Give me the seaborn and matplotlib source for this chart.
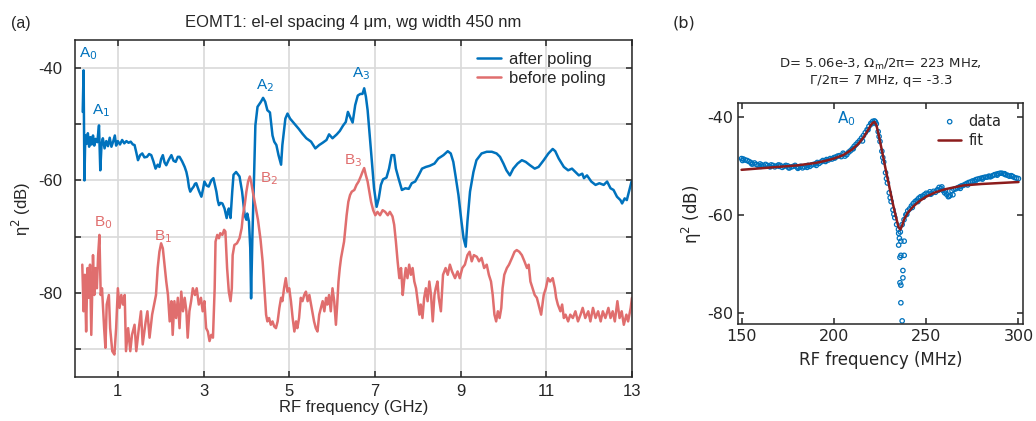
import numpy as np
import matplotlib
matplotlib.use("Agg")
import matplotlib.pyplot as plt
import seaborn as sns

# (a) wideband spectra
after_f = [0.18, 0.20, 0.22, 0.24, 0.27, 0.30, 0.33, 0.36, 0.39, 0.42, 0.45, 0.48, 0.52, 0.56, 0.59,
           0.62, 0.65, 0.69, 0.73, 0.77, 0.81, 0.85, 0.89, 0.93, 0.96, 1.00, 1.05, 1.10, 1.15, 1.20,
           1.25, 1.30, 1.35, 1.39, 1.43, 1.47, 1.52, 1.57, 1.62, 1.68, 1.73, 1.78, 1.83, 1.88, 1.93,
           1.97, 2.01, 2.05, 2.09, 2.13, 2.19, 2.25, 2.30, 2.35, 2.40, 2.44, 2.50, 2.56, 2.60, 2.63,
           2.66, 2.69, 2.73, 2.77, 2.80, 2.83, 2.89, 2.95, 2.99, 3.02, 3.07, 3.12, 3.18, 3.23, 3.27,
           3.30, 3.33, 3.36, 3.40, 3.44, 3.49, 3.54, 3.57, 3.59, 3.63, 3.67, 3.70, 3.76, 3.84, 3.90,
           3.96, 4.00, 4.02, 4.06, 4.09, 4.11, 4.14, 4.18, 4.21, 4.26, 4.34, 4.39, 4.44, 4.49, 4.55,
           4.61, 4.65, 4.70, 4.75, 4.81, 4.84, 4.91, 4.96, 5.02, 5.12, 5.22, 5.31, 5.40, 5.51, 5.61,
           5.70, 5.78, 5.87, 5.93, 6.01, 6.11, 6.18, 6.26, 6.32, 6.37, 6.42, 6.48, 6.54, 6.60, 6.66,
           6.71, 6.75, 6.79, 6.83, 6.88, 6.93, 6.98, 7.04, 7.09, 7.14, 7.19, 7.27, 7.33, 7.39, 7.45,
           7.49, 7.55, 7.63, 7.71, 7.79, 7.86, 7.94, 8.02, 8.10, 8.19, 8.28, 8.39, 8.48, 8.60, 8.70,
           8.77, 8.83, 8.88, 8.95, 9.02, 9.07, 9.12, 9.16, 9.22, 9.30, 9.37, 9.49, 9.61, 9.73, 9.84,
           9.92, 10.00, 10.07, 10.15, 10.23, 10.33, 10.43, 10.52, 10.62, 10.73, 10.82, 10.94, 11.05,
           11.15, 11.21, 11.29, 11.41, 11.51, 11.60, 11.68, 11.76, 11.84, 11.88, 11.95, 12.05, 12.15,
           12.24, 12.34, 12.42, 12.50, 12.57, 12.65, 12.73, 12.77, 12.83, 12.88, 12.93, 12.99]
after_db = [-47.8, -40.4, -60.0, -52.0, -53.5, -51.6, -54.0, -52.3, -53.6, -52.0, -53.8, -52.6, -53.2, -50.2, -58.2,
            -53.5, -52.5, -54.3, -53.0, -53.9, -52.4, -54.0, -53.1, -52.0, -53.8, -53.0, -53.6, -52.8, -53.4, -53.0,
            -53.3, -53.1, -53.6, -53.7, -55.0, -56.4, -55.5, -55.2, -55.9, -55.8, -55.3, -55.5, -56.6, -57.9, -57.2,
            -57.6, -56.2, -55.5, -56.8, -57.3, -56.3, -55.5, -56.5, -56.7, -55.8, -55.8, -56.6, -57.6, -58.5, -59.6,
            -61.2, -62.0, -61.5, -61.1, -60.6, -60.5, -61.8, -62.9, -61.5, -60.2, -60.9, -61.1, -60.0, -59.6, -61.0,
            -62.0, -63.5, -64.4, -64.0, -64.1, -65.0, -66.7, -65.5, -65.0, -66.7, -62.0, -59.0, -58.5, -59.3, -62.0,
            -66.2, -67.0, -65.9, -67.3, -72.0, -81.0, -70.0, -59.1, -50.2, -46.9, -46.0, -45.3, -46.0, -47.5, -47.9,
            -52.0, -53.1, -53.7, -55.5, -57.2, -53.7, -49.0, -48.1, -49.0, -49.9, -50.8, -51.7, -52.5, -53.1, -54.3,
            -53.7, -53.3, -52.8, -51.8, -52.5, -51.8, -51.2, -50.2, -49.6, -47.8, -48.7, -49.7, -46.6, -44.9, -44.6,
            -44.6, -43.6, -45.1, -47.5, -52.0, -56.7, -61.4, -64.7, -63.2, -60.8, -59.8, -59.5, -57.9, -55.5, -55.5,
            -57.9, -59.6, -61.7, -61.4, -61.5, -60.5, -60.2, -59.1, -57.9, -57.6, -57.4, -57.0, -56.1, -55.5, -54.8,
            -55.2, -56.7, -59.1, -62.6, -67.3, -70.3, -71.8, -67.3, -62.0, -58.5, -56.4, -55.2, -54.9, -54.9, -55.2,
            -55.8, -57.0, -58.2, -59.1, -57.9, -57.0, -56.4, -56.7, -57.3, -57.9, -57.6, -56.4, -55.2,
            -54.4, -54.8, -56.1, -57.6, -58.2, -57.9, -58.5, -59.1, -58.8, -59.6, -59.1, -60.2, -60.8,
            -60.5, -60.8, -60.2, -61.4, -61.7, -62.9, -63.5, -64.1, -63.2, -63.5, -62.0, -60.2]

before_f = [0.17, 0.20, 0.23, 0.26, 0.29, 0.32, 0.35, 0.38, 0.42, 0.45, 0.48, 0.51, 0.54, 0.57, 0.60,
            0.63, 0.68, 0.71, 0.74, 0.79, 0.82, 0.87, 0.92, 0.96, 1.00, 1.04, 1.08, 1.12, 1.16, 1.19,
            1.24, 1.29, 1.33, 1.39, 1.43, 1.49, 1.54, 1.58, 1.65, 1.69, 1.74, 1.80, 1.86, 1.89, 1.93,
            1.97, 2.01, 2.05, 2.09, 2.13, 2.17, 2.21, 2.25, 2.28, 2.32, 2.36, 2.40, 2.44, 2.48, 2.52,
            2.56, 2.60, 2.63, 2.67, 2.71, 2.75, 2.80, 2.84, 2.89, 2.94, 2.98, 3.02, 3.06, 3.10, 3.14,
            3.18, 3.22, 3.26, 3.28, 3.32, 3.36, 3.39, 3.44, 3.48, 3.51, 3.55, 3.59, 3.63, 3.66, 3.68,
            3.72, 3.78, 3.84, 3.89, 3.92, 3.96, 4.00, 4.04, 4.08, 4.11, 4.15, 4.21, 4.27, 4.33, 4.38,
            4.42, 4.46, 4.49, 4.53, 4.57, 4.61, 4.65, 4.69, 4.73, 4.77, 4.81, 4.84, 4.88, 4.92, 4.96,
            5.00, 5.04, 5.08, 5.12, 5.16, 5.19, 5.23, 5.27, 5.31, 5.35, 5.39, 5.43, 5.47, 5.51, 5.54,
            5.58, 5.62, 5.66, 5.70, 5.74, 5.78, 5.82, 5.86, 5.89, 5.93, 5.97, 6.01, 6.05, 6.09, 6.12,
            6.15, 6.18, 6.21, 6.25, 6.28, 6.31, 6.34, 6.38, 6.42, 6.46, 6.52, 6.57, 6.62, 6.67, 6.71,
            6.75, 6.79, 6.83, 6.87, 6.91, 6.96, 7.01, 7.06, 7.12, 7.18, 7.24, 7.30, 7.35, 7.41, 7.45,
            7.49, 7.53, 7.57, 7.61, 7.65, 7.68, 7.72, 7.76, 7.80, 7.84, 7.88, 7.92, 7.96, 8.00, 8.04,
            8.07, 8.11, 8.15, 8.19, 8.23, 8.27, 8.31, 8.35, 8.39, 8.42, 8.46, 8.49, 8.54, 8.59, 8.65,
            8.70, 8.75, 8.80, 8.87, 8.93, 8.98, 9.04, 9.10, 9.16, 9.21, 9.26, 9.31, 9.38, 9.43, 9.49,
            9.55, 9.61, 9.66, 9.71, 9.75, 9.79, 9.83, 9.87, 9.91, 9.95, 9.98, 10.02, 10.08, 10.13, 10.20,
            10.26, 10.31, 10.37, 10.43, 10.49, 10.55, 10.59, 10.63, 10.68, 10.73, 10.78, 10.84, 10.88,
            10.94, 10.99, 11.04, 11.09, 11.15, 11.20, 11.23, 11.27, 11.33, 11.37, 11.41, 11.45, 11.51,
            11.56, 11.62, 11.68, 11.74, 11.80, 11.85, 11.91, 11.98, 12.03, 12.09, 12.15, 12.21, 12.27,
            12.32, 12.38, 12.45, 12.50, 12.55, 12.60, 12.66, 12.71, 12.76, 12.81, 12.87, 12.91, 12.97, 13.00]
before_db = [-75.0, -83.3, -76.8, -86.9, -75.6, -80.9, -75.0, -87.5, -73.3, -80.4, -75.6, -79.2, -73.3, -69.7, -80.4,
             -79.2, -86.3, -89.8, -82.1, -80.4, -86.3, -90.4, -91.0, -86.3, -79.2, -82.7, -80.4, -82.1, -80.4, -90.4,
             -86.3, -90.4, -87.5, -85.7, -90.4, -86.3, -83.3, -89.2, -85.1, -83.3, -88.0, -83.9, -81.5, -80.4, -75.6,
             -72.7, -71.2, -72.1, -75.0, -78.0, -80.4, -85.1, -81.5, -87.5, -81.5, -84.5, -80.9, -86.3, -79.8, -83.3,
             -80.9, -83.3, -88.0, -83.3, -81.5, -79.2, -80.4, -79.2, -82.1, -80.9, -83.3, -81.5, -86.3, -86.9, -88.6,
             -87.5, -88.0, -79.2, -70.9, -69.7, -70.3, -69.4, -69.7, -68.8, -69.1, -75.6, -79.8, -81.5, -79.2, -73.3,
             -71.5, -71.2, -70.3, -68.5, -66.2, -64.4, -62.0, -60.2, -59.3, -60.2, -62.0, -64.5, -67.0, -70.5, -74.5,
             -79.2, -83.9, -85.1, -84.5, -85.7, -85.1, -86.0, -86.3, -85.1, -82.7, -80.9, -81.5, -79.2, -77.4, -79.8,
             -79.2, -81.5, -84.5, -86.9, -85.1, -86.3, -84.5, -80.9, -81.5, -80.4, -79.8, -81.5, -80.4, -82.1, -83.3,
             -85.1, -86.3, -86.9, -83.9, -82.7, -81.5, -83.3, -80.9, -82.1, -80.4, -83.3, -79.2, -81.5, -85.7, -82.1,
             -78.0, -75.6, -73.8, -72.1, -70.9, -68.5, -66.2, -63.8, -62.6, -62.0, -61.7, -60.8, -60.2, -59.3, -58.5,
             -57.8, -59.1, -60.2, -62.0, -63.8, -65.3, -66.2, -65.6, -66.2, -65.3, -65.6, -66.2, -65.6, -66.4, -67.9,
             -70.9, -74.4, -77.4, -75.6, -80.4, -78.0, -75.6, -77.4, -75.0, -76.8, -75.6, -78.0, -79.2, -81.5, -83.9,
             -82.1, -84.5, -80.9, -79.2, -81.5, -78.0, -80.4, -85.1, -80.4, -79.2, -78.0, -80.9, -83.3, -76.8, -75.6,
             -76.8, -75.0, -76.2, -77.4, -76.2, -77.4, -75.6, -75.0, -73.3, -72.7, -74.4, -73.3, -73.6, -74.4, -73.8,
             -75.6, -75.0, -76.8, -78.0, -80.4, -83.9, -85.1, -83.3, -84.5, -82.7, -79.2, -76.8, -75.6, -75.0, -73.8,
             -72.7, -72.4, -72.7, -73.3, -74.4, -75.6, -75.0, -78.0, -79.2, -80.4, -80.9, -82.7, -83.9,
             -80.4, -79.2, -77.4, -78.0, -77.4, -79.2, -80.9, -82.1, -83.3, -82.1, -84.5, -83.9, -85.1,
             -83.9, -84.5, -83.3, -85.1, -83.9, -82.7, -84.5, -83.3, -85.1, -82.7, -84.5, -83.3, -85.1,
             -83.3, -84.5, -82.7, -84.5, -83.3, -85.1, -81.5, -84.5, -83.3, -85.7, -83.9, -85.1, -82.7, -80.9]

peak_names = ["A$_0$", "A$_1$", "A$_2$", "A$_3$", "B$_0$", "B$_1$", "B$_2$", "B$_3$"]
peak_f = [0.30, 0.61, 4.43, 6.68, 0.65, 2.05, 4.53, 6.49]
peak_db = [-37.4, -47.5, -43.1, -41.0, -67.6, -70.0, -59.6, -56.4]

# (b) zoom on A0 with Fano fit
data_f = list(range(150, 301))
data_db = [-48.5, -48.6, -48.8, -48.9, -49.1, -49.3, -49.6, -49.4, -49.7, -49.9, -49.6,
           -49.8, -50.0, -49.7, -49.9, -50.1, -49.8, -49.9, -50.2, -50.0, -49.8,
           -49.9, -50.3, -50.1, -49.9, -50.0, -50.4, -50.2, -50.1, -49.9, -50.2,
           -50.3, -50.1, -50.4, -50.2, -50.0, -49.9, -50.1, -49.8, -49.7, -49.6,
           -49.3, -49.5, -49.2, -48.9, -49.0, -48.7, -48.8, -48.5, -48.6, -48.3,
           -48.2, -48.0, -47.9, -48.1, -47.4, -48.0, -47.7, -47.2, -46.9, -46.5,
           -46.0, -45.6, -45.2, -44.8, -44.3, -43.8, -43.2, -42.6, -41.9, -41.3,
           -40.9, -40.8, -41.4, -43.0, -45.0, -47.0, -49.2, -51.4, -53.5, -55.5,
           -57.3, -59.0, -60.6, -62.0, -63.0, -63.5, -62.0, -61.0, -60.0, -59.2,
           -58.8, -58.2, -57.7, -57.3, -57.0, -56.6, -56.3, -56.2, -55.9, -55.6,
           -55.7, -55.3, -55.6, -55.2, -55.4, -54.9, -54.4, -54.6, -55.0, -55.5,
           -55.8, -56.3, -56.0, -55.1, -54.8, -54.7, -54.5, -54.3, -54.1, -54.0,
           -53.8, -53.6, -53.4, -53.3, -53.1, -53.0, -52.8, -52.7, -52.6, -52.5,
           -52.4, -52.3, -52.3, -52.1, -52.2, -52.0, -51.8, -51.7, -51.6, -51.5,
           -51.5, -51.6, -51.8, -51.9, -52.1, -52.0, -52.2, -52.4, -52.5, -52.6]
# half-MHz points, slightly off the 1 MHz ones (the scan is much denser than 1 MHz)
mid_f = [150.5, 155.5, 160.5, 165.5, 170.5, 175.5, 180.5, 185.5, 190.5, 195.5, 200.5, 205.5, 210.5,
         215.5, 218.5, 220.5, 222.5, 224.5, 226.5, 228.5, 230.5, 232.5, 239.5, 242.5, 245.5, 248.5,
         252.5, 256.5, 258.5, 260.5, 262.5, 264.5, 268.5, 272.5, 276.5, 280.5, 284.5, 288.5, 292.5, 296.5]
mid_db = [-48.9, -49.6, -50.1, -50.2, -50.1, -50.4, -50.5, -50.3, -49.9, -49.1, -48.4, -47.6, -46.5,
          -44.9, -42.6, -41.4, -41.0, -44.0, -48.3, -52.6, -56.5, -59.9, -59.9, -58.5, -57.3, -56.4,
          -55.8, -55.0, -54.3, -55.2, -56.2, -55.9, -54.6, -53.9, -53.2, -52.7, -52.2, -51.9, -51.6, -52.1]
dip_f = [235.1, 235.1, 235.8, 236.3, 236.3, 237.4, 237.4, 235.8, 236.3, 238.1, 238.1, 236.3, 235.5, 237.0]
dip_db = [-63.8, -66.2, -68.7, -65.4, -68.3, -71.4, -72.9, -73.9, -74.4, -65.4, -68.3, -78.0, -64.8, -81.7]
fit_f = [150, 160, 170, 180, 190, 195, 200, 205, 210, 213, 216, 218, 220, 221, 222, 223, 224, 226, 228,
         230, 232, 234, 235, 236, 237, 238, 240, 243, 246, 250, 255, 260, 265, 270, 280, 290, 300]
fit_db = [-50.8, -50.5, -50.2, -49.9, -49.4, -49.0, -48.5, -47.8, -46.6, -45.6, -44.2, -43.0, -41.7, -41.2,
          -41.0, -41.6, -43.2, -46.8, -50.6, -54.2, -57.8, -61.0, -62.5, -63.0, -62.2, -61.0, -59.6, -58.3,
          -57.3, -56.3, -55.4, -54.8, -54.4, -54.0, -53.7, -53.5, -53.3]

blue = "#0072BD"
red = "#E06E6E"
darkred = "#8C1C1C"

sns.set_style("ticks")
plt.rcParams["font.family"] = ["Liberation Sans", "DejaVu Sans"]
plt.rcParams["mathtext.fontset"] = "dejavusans"
plt.rcParams["axes.unicode_minus"] = False
plt.rcParams["axes.edgecolor"] = "#262626"
plt.rcParams["axes.linewidth"] = 1.1
plt.rcParams["xtick.direction"] = "in"
plt.rcParams["ytick.direction"] = "in"

fig = plt.figure(figsize=(10.36, 4.21), dpi=100)
ax1 = fig.add_axes([0.0724, 0.1045, 0.5376, 0.8005])
ax2 = fig.add_axes([0.7126, 0.2297, 0.2751, 0.5249])

# ---- panel (a)
sns.lineplot(x=after_f, y=after_db, ax=ax1, color=blue, lw=1.8, label="after poling",
             estimator=None, sort=False)
sns.lineplot(x=before_f, y=before_db, ax=ax1, color=red, lw=1.8, label="before poling",
             estimator=None, sort=False)
for name, f, db in zip(peak_names, peak_f, peak_db):
    ax1.text(f, db, name, color=blue if name[0] == "A" else red, fontsize=11,
             ha="center", va="center")
ax1.set_xlim(0, 13)
ax1.set_ylim(-95, -35)
ax1.set_xticks([1, 3, 5, 7, 9, 11, 13])
ax1.set_yticks([-90, -80, -70, -60, -50, -40])
ax1.set_yticklabels(["", "-80", "", "-60", "", "-40"])
ax1.grid(True, color="#D9D9D9", lw=1.2)
ax1.set_axisbelow(True)
ax1.tick_params(top=True, right=True, length=4, width=1.1, labelsize=12)
ax1.tick_params(axis="y", pad=9)
ax1.tick_params(axis="x", pad=5)
ax1.set_xlabel("RF frequency (GHz)", fontsize=12, labelpad=1)
ax1.set_ylabel("η$^2$ (dB)", fontsize=12, labelpad=4)
ax1.set_title("EOMT1: el-el spacing 4 μm, wg width 450 nm", fontsize=12, pad=9)
ax1.legend(loc="upper right", bbox_to_anchor=(0.965, 0.985), frameon=False, fontsize=12,
           handlelength=1.4, handletextpad=0.5, borderaxespad=0.0, labelspacing=0.25)

# ---- panel (b)
sns.scatterplot(x=data_f + mid_f + dip_f, y=data_db + mid_db + dip_db, ax=ax2, marker="o", s=10,
                color=blue, facecolor="none", edgecolor=blue, linewidth=0.9, label="data")
sns.lineplot(x=fit_f, y=fit_db, ax=ax2, color=darkred, lw=1.8, label="fit",
             estimator=None, sort=False)
ax2.text(207, -40.3, "A$_0$", color=blue, fontsize=11, ha="center", va="center",
         family="DejaVu Sans")
ax2.set_xlim(148.2, 302.6)
ax2.set_ylim(-82.4, -37.2)
ax2.set_xticks([150, 200, 250, 300])
ax2.set_yticks([-80, -60, -40])
ax2.tick_params(top=True, right=True, length=4, width=1.1, labelsize=11.5)
for lab in ax2.get_xticklabels() + ax2.get_yticklabels():
    lab.set_family("DejaVu Sans")
ax2.set_xlabel("RF frequency (MHz)", fontsize=12, family="DejaVu Sans", labelpad=5)
ax2.set_ylabel("η$^2$ (dB)", fontsize=12, family="DejaVu Sans", labelpad=2)
ax2.set_title("D= 5.06e-3, Ω$_\\mathrm{m}$/2π= 223 MHz,\nΓ/2π= 7 MHz, q= -3.3",
              fontsize=9.5, family="DejaVu Sans", pad=14)
ax2.legend(loc="upper right", bbox_to_anchor=(0.96, 1.0), frameon=False, handlelength=1.6,
           handletextpad=0.5, borderaxespad=0.3, labelspacing=0.3,
           prop={"family": "DejaVu Sans", "size": 10.5})

fig.text(0.02, 0.945, "(a)", fontsize=11.5, ha="center", va="center")
fig.text(0.66, 0.945, "(b)", fontsize=11.5, ha="center", va="center", family="DejaVu Sans")

fig.savefig("out.png", dpi=100)
